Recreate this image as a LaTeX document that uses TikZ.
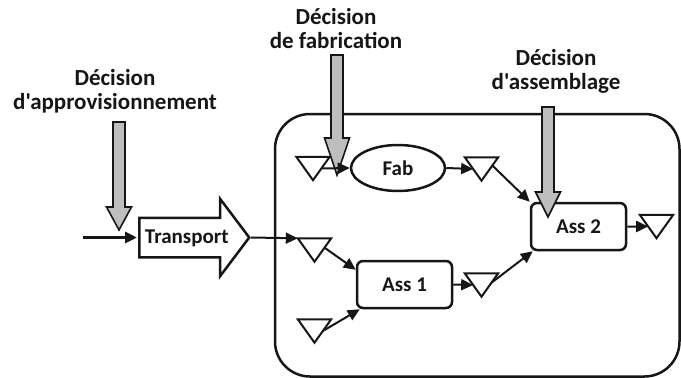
\documentclass[tikz,border=0pt]{standalone}
\usepackage{fontspec}
\setmainfont{Carlito}[Ligatures=TeXOff]
\usetikzlibrary{arrows.meta,shapes.geometric,shapes.arrows,calc}

\definecolor{ink}{RGB}{22,22,22}
\definecolor{decgray}{RGB}{190,190,190}

\tikzset{
  every node/.style={font=\bfseries\fontsize{21}{23}\selectfont, text=ink},
  frame/.style={draw=ink, line width=2.5pt, rounded corners=35pt},
  box/.style={draw=ink, fill=white, line width=2.5pt, rounded corners=6pt,
    minimum width=95pt, minimum height=47pt, inner sep=0pt},
  process/.style={draw=ink, fill=white, line width=2.5pt, ellipse,
    minimum width=94pt, minimum height=46pt, inner sep=0pt},
  carrier/.style={draw=ink, fill=white, line width=2.5pt, single arrow,
    single arrow head extend=19pt, single arrow tip angle=106,
    minimum height=110pt, inner xsep=0pt, inner ysep=13pt,
    text height=11pt, text depth=0pt},
  stockspot/.style={minimum width=33pt, minimum height=23pt, inner sep=0pt},
  stockline/.style={draw=ink, fill=white, line width=2pt, line join=miter},
  flow/.style={draw=ink, line width=2pt, -{Triangle[length=12pt,width=11pt]}},
  decision/.style={draw=ink, fill=decgray, line width=1.6pt, line join=miter},
  declabel/.style={font=\bfseries\fontsize{23}{24}\selectfont, align=center,
    inner sep=0pt, text height=15pt, text depth=5pt},
}

% a stock point: an invisible anchor box with a downward triangle on it
\newcommand\stockat[2]{%
  \node[stockspot] (#1) at (#2) {};
  \draw[stockline] (#1.north west) -- (#1.north east) -- (#1.south) -- cycle;}

% a grey decision arrow: name, axis x, top y, head start y, tip y
\newcommand\decarrow[5]{%
  \coordinate (#1) at (#2,#3);
  \draw[decision] (#2-6,#3) -- (#2+6,#3) -- (#2+6,#4) -- (#2+12.5,#4)
    -- (#2,#5) -- (#2-12.5,#4) -- (#2-6,#4) -- cycle;}

\begin{document}
\begin{tikzpicture}[x=1pt,y=-1pt]
\useasboundingbox (0,0) rectangle (681,378);

% the plant
\draw[frame] (275,114) rectangle (679.5,376.5);

% operations
\node[process] (fab) at (398,168) {Fab};
\node[box] (ass1) at (404.5,284.5) {Ass 1};
\node[box] (ass2) at (578.5,226.5) {Ass 2};
\node[carrier, anchor=tail] (transport) at (138,237.5) {Transport};

% stocks
\stockat{t1}{313,168.5}
\stockat{t2}{481.5,169}
\stockat{t3}{314.5,250}
\stockat{t4}{314.5,331}
\stockat{t5}{481.5,285}
\stockat{t6}{656.5,226.5}

% decisions
\node[declabel] (labA) at (115,104) {Décision\\d'approvisionnement};
\node[declabel] (labF) at (336,43) {Décision\\de fabrication};
\node[declabel] (labS) at (556,84) {Décision\\d'assemblage};
\decarrow{dA}{119}{122}{207}{230}
\decarrow{dF}{337}{55}{138}{175}
\decarrow{dS}{548}{107}{192}{217}

% flows
\coordinate (src) at (83,237.5);
\draw[flow, line width=3pt, shorten >=1pt] (src) -- (transport.tail);
\draw[flow] (transport.tip) -- (t3.north west);
\draw[flow] ($(t1.north east)!.5!(t1.south)$) -- (fab.west);
\draw[flow] (fab.east) -- ($(t2.north west)!.5!(t2.south)$);
\draw[flow] ($(t2.north east)!.35!(t2.south)$) -- (ass2.north west);
\draw[flow] ($(t3.north east)!.4!(t3.south)$) -- ($(ass1.north west)+(0,10)$);
\draw[flow] ($(t4.north east)!.5!(t4.south)$) -- ($(ass1.south west)+(4,0)$);
\draw[flow] (ass1.east) -- ($(t5.north west)!.5!(t5.south)$);
\draw[flow] ($(t5.north east)!.4!(t5.south)$) -- ($(ass2.south west)+(3,0)$);
\draw[flow] (ass2.east) -- ($(t6.north west)!.5!(t6.south)$);
\end{tikzpicture}
\end{document}
